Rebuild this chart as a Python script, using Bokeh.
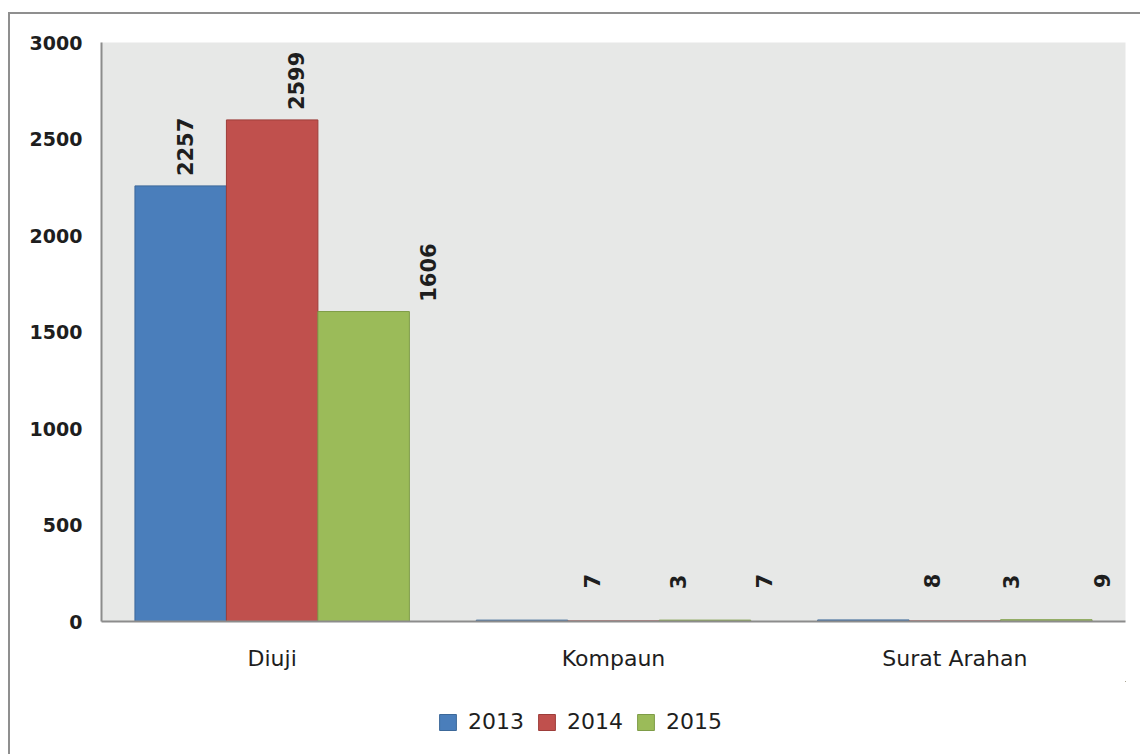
import math
from bokeh.plotting import figure
from bokeh.models import (ColumnDataSource, FactorRange, Range1d, Legend, LegendItem,
                          FixedTicker, Spacer)
from bokeh.layouts import column, row
from bokeh.transform import dodge
from bokeh.core.properties import value
from bokeh.embed import file_html
from bokeh.resources import INLINE

# ---------------- data ----------------
categories = ["Diuji", "Kompaun", "Surat Arahan"]
years = ["2013", "2014", "2015"]
values_2013 = [2257, 7, 8]
values_2014 = [2599, 3, 3]
values_2015 = [1606, 7, 9]
y_ticks = [0, 500, 1000, 1500, 2000, 2500, 3000]

# ---------------- style ----------------
fills = ["#4a7ebb", "#c0504d", "#9bbb59"]
edges = ["#3c6899", "#9d3d3a", "#7e9c47"]
# pixel nudges of the value labels (per year, per category)
label_dx = [[4, 70, 69], [24, 64, 56], [64, 59, 56]]
bar_w = 0.268
offsets = [-bar_w, 0.0, bar_w]
FONT = "DejaVu Sans"
TXT = "#1e1e1e"

series = [values_2013, values_2014, values_2015]

p = figure(x_range=FactorRange(*categories), y_range=Range1d(0, 3000),
           width=1132, height=667, output_backend="svg", toolbar_location=None,
           min_border_left=91, min_border_right=17, min_border_top=28,
           min_border_bottom=60)

p.background_fill_color = "#e7e8e7"
p.border_fill_color = "white"
p.outline_line_color = None
p.xgrid.grid_line_color = None
p.ygrid.grid_line_color = None

renderers = []
for i, (yr, vals) in enumerate(zip(years, series)):
    src = ColumnDataSource(dict(cat=categories, val=vals,
                                txt=[str(v) for v in vals], dx=label_dx[i]))
    r = p.vbar(x=dodge("cat", offsets[i], range=p.x_range), top="val", bottom=0,
               width=bar_w, source=src, fill_color=fills[i], line_color=edges[i],
               line_width=1)
    renderers.append(r)
    p.text(x=dodge("cat", offsets[i], range=p.x_range), y="val", text="txt",
           source=src, angle=math.pi / 2, x_offset="dx", y_offset=-39,
           text_align="center", text_baseline="middle",
           text_font=value(FONT), text_font_style="bold",
           text_font_size="21px", text_color=TXT)

# axes
p.yaxis.ticker = FixedTicker(ticks=y_ticks)
p.yaxis.major_label_text_font = FONT
p.yaxis.major_label_text_font_style = "bold"
p.yaxis.major_label_text_font_size = "19px"
p.yaxis.major_label_text_color = TXT
p.yaxis.major_label_standoff = 13
p.yaxis.axis_line_color = "#8c8c8c"
p.yaxis.axis_line_width = 2
p.yaxis.major_tick_line_color = None
p.yaxis.minor_tick_line_color = None

p.xaxis.major_label_text_font = FONT
p.xaxis.major_label_text_font_size = "22px"
p.xaxis.major_label_text_color = TXT
p.xaxis.major_label_standoff = 24
p.xaxis.axis_line_color = "#8c8c8c"
p.xaxis.axis_line_width = 2
p.xaxis.major_tick_line_color = None
p.xaxis.minor_tick_line_color = None
p.xaxis.major_tick_out = 0
p.xaxis.major_tick_in = 0

# ---------------- legend strip ----------------
lf = figure(width=1132, height=75, output_backend="svg", toolbar_location=None,
            x_range=Range1d(0, 1), y_range=Range1d(0, 1),
            min_border=0, min_border_left=0, min_border_right=0,
            min_border_top=0, min_border_bottom=0)
lf.axis.visible = False
lf.grid.visible = False
lf.outline_line_color = None
lf.background_fill_color = "white"
lf.border_fill_color = "white"
leg_renderers = []
for i in range(3):
    # kept outside the visible range: only used to draw the legend swatch
    leg_renderers.append(lf.vbar(x=[5], top=[5], bottom=[4], width=0.1,
                                 fill_color=fills[i], line_color=edges[i],
                                 line_width=1))

legend = Legend(items=[LegendItem(label=yr, renderers=[r]) for yr, r in zip(years, leg_renderers)],
                orientation="horizontal", location=(336, 22),
                border_line_color=None, background_fill_alpha=0,
                glyph_width=21, glyph_height=20, label_standoff=10, spacing=12,
                padding=4, margin=0,
                label_text_font=FONT, label_text_font_size="22px",
                label_text_color=TXT)
lf.add_layout(legend, "center")

inner = column(p, lf)
inner.styles = {"box-shadow": "-2px -2px 0 0 #8f8f8f"}

layout = column(Spacer(height=14, width=10), row(Spacer(width=10, height=10), inner))
open("out.html", "w").write(file_html(layout, INLINE))
